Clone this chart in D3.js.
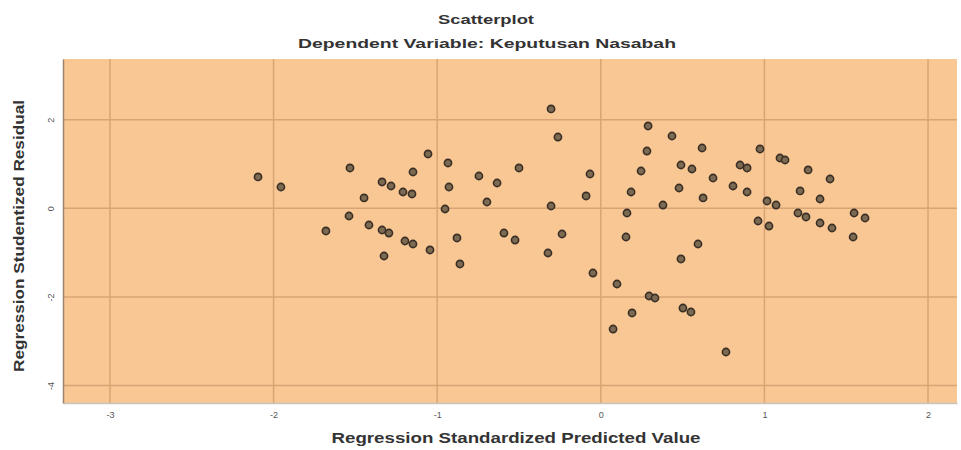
<!DOCTYPE html>
<html>
<head>
<meta charset="utf-8">
<script src="https://cdn.jsdelivr.net/npm/d3@7"></script>
<style>
    body { margin: 0; background: #fff; }
    #chart-area { width: 961px; height: 450px; }
    text { font-family: "Liberation Sans", Arial, sans-serif; }
</style>
</head>
<body>
<div id="chart-area"></div>
<script>

// Regression standardized predicted value (x) for each case
let predicted = [
    -2.095, -1.955, -1.680, -1.533, -1.539, -1.447, -1.417, -1.337, -1.282, -1.337,
    -1.295, -1.209, -1.154, -1.197, -1.148, -1.325, -1.148, -1.056, -1.044, -0.934,
    -0.928, -0.952, -0.879, -0.861, -0.745, -0.634, -0.696, -0.500, -0.592, -0.524,
    -0.304, -0.262, -0.304, -0.237, -0.323, -0.066, -0.090, -0.048, 0.075, 0.099,
    0.191, 0.160, 0.154, 0.185, 0.246, 0.282, 0.289, 0.295, 0.331, 0.380,
    0.435, 0.490, 0.478, 0.490, 0.502, 0.551, 0.557, 0.594, 0.619, 0.625,
    0.686, 0.765, 0.808, 0.851, 0.894, 0.894, 0.961, 0.973, 1.016, 1.028,
    1.071, 1.095, 1.126, 1.205, 1.254, 1.218, 1.267, 1.340, 1.340, 1.401,
    1.413, 1.548, 1.615, 1.542
];

// Regression studentized residual (y) for each case
let residual = [
    0.707, 0.481, -0.512, 0.910, -0.174, 0.233, -0.377, 0.594, 0.503, -0.490,
    -0.558, 0.368, 0.323, -0.738, -0.806, -1.077, 0.819, 1.226, -0.941, 1.023,
    0.481, -0.016, -0.670, -1.257, 0.729, 0.571, 0.142, 0.910, -0.558, -0.716,
    2.242, 1.609, 0.052, -0.580, -1.009, 0.774, 0.278, -1.461, -2.725, -1.709,
    -2.363, -0.106, -0.648, 0.368, 0.842, 1.293, 1.858, -1.980, -2.025, 0.074,
    1.632, 0.977, 0.458, -1.144, -2.251, -2.341, 0.887, -0.806, 1.361, 0.233,
    0.684, -3.244, 0.503, 0.977, 0.910, 0.368, -0.287, 1.339, 0.165, -0.400,
    0.074, 1.135, 1.090, -0.106, -0.196, 0.391, 0.865, 0.210, -0.332, 0.661,
    -0.445, -0.106, -0.219, -0.648
];

// Axis ticks
let xTicks = [-3, -2, -1, 0, 1, 2];
let yTicks = [2, 0, -2, -4];

let titleText = "Scatterplot";
let subtitleText = "Dependent Variable: Keputusan Nasabah";
let xLabelText = "Regression Standardized Predicted Value";
let yLabelText = "Regression Studentized Residual";


class ResidualPlot {

    constructor(parentElement, xData, yData) {
        this.parentElement = parentElement;
        this.data = xData.map((d, i) => ({x: d, y: yData[i]}));
        this.initVis();
    }

    initVis() {
        let vis = this;

        vis.margin = {top: 59, right: 4, bottom: 47, left: 63};
        vis.width = 961 - vis.margin.left - vis.margin.right;
        vis.height = 450 - vis.margin.top - vis.margin.bottom;

        vis.root = d3.select(`#${vis.parentElement}`).append("svg")
            .attr("width", 961)
            .attr("height", 450);

        vis.svg = vis.root.append("g")
            .attr("transform", `translate(${vis.margin.left},${vis.margin.top})`);

        // Scales
        vis.xScale = d3.scaleLinear().domain([-3.287, 2.177]).range([0, vis.width]);
        vis.yScale = d3.scaleLinear().domain([-4.395, 3.37]).range([vis.height, 0]);

        // Plot background
        vis.svg.append("rect")
            .attr("width", vis.width)
            .attr("height", vis.height)
            .attr("fill", "#f9c794");

        // Grid lines
        vis.svg.append("g")
            .attr("class", "grid")
            .selectAll("line.vgrid")
            .data(xTicks)
            .enter().append("line")
            .attr("x1", d => vis.xScale(d))
            .attr("x2", d => vis.xScale(d))
            .attr("y1", 0)
            .attr("y2", vis.height)
            .attr("stroke", "#d8a476")
            .attr("stroke-width", 1.5);

        vis.svg.append("g")
            .attr("class", "grid")
            .selectAll("line.hgrid")
            .data(yTicks)
            .enter().append("line")
            .attr("x1", 0)
            .attr("x2", vis.width)
            .attr("y1", d => vis.yScale(d))
            .attr("y2", d => vis.yScale(d))
            .attr("stroke", "#d8a476")
            .attr("stroke-width", 1.5);

        // Axes (plain hyphen minus, as in the SPSS output)
        let fmt = d => String(d);
        vis.xAxis = d3.axisBottom(vis.xScale).tickValues(xTicks).tickFormat(fmt).tickSize(0).tickPadding(9);
        vis.yAxis = d3.axisLeft(vis.yScale).tickValues(yTicks).tickFormat(fmt).tickSize(0).tickPadding(8);

        vis.svg.append("g")
            .attr("class", "x-axis")
            .attr("transform", `translate(0,${vis.height})`)
            .call(vis.xAxis)
            .call(g => g.select(".domain").attr("stroke", "#c9c4bd").attr("stroke-width", 1.5))
            .call(g => g.selectAll("text").attr("fill", "#555").style("font-size", "9px"));

        // y tick labels are turned on their side, like the SPSS output
        vis.svg.append("g")
            .attr("class", "y-axis")
            .call(vis.yAxis)
            .call(g => g.select(".domain").attr("stroke", "#9a8470").attr("stroke-width", 1.5))
            .call(g => g.selectAll("text")
                .attr("fill", "#555")
                .style("font-size", "9px")
                .attr("text-anchor", "middle")
                .attr("x", 0)
                .attr("dy", "0")
                .attr("transform", "translate(-9,0) rotate(-90)"));

        // Titles
        vis.root.append("text")
            .attr("x", 486)
            .attr("y", 24)
            .attr("text-anchor", "middle")
            .attr("font-weight", "bold")
            .attr("font-size", 13)
            .attr("fill", "#333")
            .attr("textLength", 96)
            .attr("lengthAdjust", "spacingAndGlyphs")
            .text(titleText);

        vis.root.append("text")
            .attr("x", 487)
            .attr("y", 48)
            .attr("text-anchor", "middle")
            .attr("font-weight", "bold")
            .attr("font-size", 13)
            .attr("fill", "#333")
            .attr("textLength", 378)
            .attr("lengthAdjust", "spacingAndGlyphs")
            .text(subtitleText);

        // Axis labels
        vis.root.append("text")
            .attr("x", 516)
            .attr("y", 443)
            .attr("text-anchor", "middle")
            .attr("font-weight", "bold")
            .attr("font-size", 15)
            .attr("fill", "#333")
            .attr("textLength", 369)
            .attr("lengthAdjust", "spacingAndGlyphs")
            .text(xLabelText);

        vis.root.append("text")
            .attr("transform", "translate(24,236) rotate(-90)")
            .attr("text-anchor", "middle")
            .attr("font-weight", "bold")
            .attr("font-size", 14)
            .attr("fill", "#333")
            .attr("textLength", 272)
            .attr("lengthAdjust", "spacingAndGlyphs")
            .text(yLabelText);

        vis.updateVis();
    }

    updateVis() {
        let vis = this;

        vis.svg.append("g")
            .attr("class", "points")
            .selectAll("circle")
            .data(vis.data)
            .enter().append("circle")
            .attr("cx", d => vis.xScale(d.x))
            .attr("cy", d => vis.yScale(d.y))
            .attr("r", 3.6)
            .attr("fill", "#7d6a52")
            .attr("stroke", "#3a2f25")
            .attr("stroke-width", 1.6);
    }
}

new ResidualPlot("chart-area", predicted, residual);

</script>
</body>
</html>
